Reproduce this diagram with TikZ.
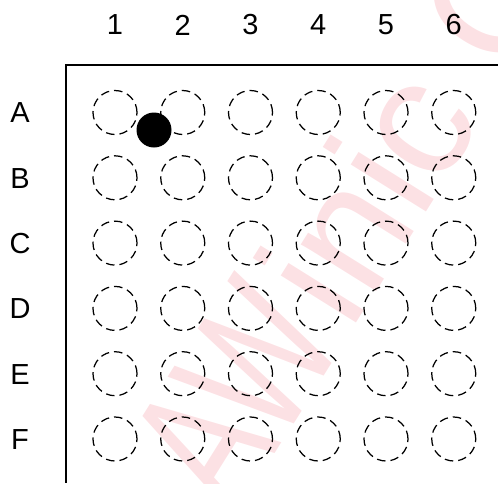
\documentclass[tikz,border=0pt]{standalone}
\usepackage{fontspec}
\setmainfont{Liberation Sans}
\definecolor{wmpink}{RGB}{252,225,228}
\begin{document}
\begin{tikzpicture}[x=1pt,y=-1pt,
  ball/.style={circle,draw=black,line width=1.25pt,dash pattern=on 8.5pt off 5pt,minimum size=44pt,inner sep=0pt},
  lbl/.style={font=\fontsize{29}{29}\selectfont,inner sep=0pt},
  frame/.style={line width=1.6pt,black}]
\useasboundingbox (0,0) rectangle (498,483);
\begin{scope}
\clip (0,0) rectangle (498,483);
\node[rotate=58,anchor=base west,text=wmpink,font=\fontsize{168}{168}\selectfont,inner sep=0pt] (wm) at (210,558) {\kern46pt\scalebox{0.8}[1.14]{AW}\kern8pt inic C};
\end{scope}
\coordinate (tl) at (66,65);
\coordinate (tr) at (498,65);
\coordinate (bl) at (66,483);
\draw[frame] (tr) -- (tl) -- (bl);
\foreach \c [count=\i] in {1,2,3,4,5,6}{
  \node[lbl] (col\i) at ({115+67.75*(\i-1)},25) {\c};
}
\foreach \r [count=\j] in {A,B,C,D,E,F}{
  \node[lbl] (row\j) at (20,{113+65.3*(\j-1)}) {\r};
  \foreach \i in {1,...,6}{
    \node[ball] (b\j\i) at ({115+67.75*(\i-1)},{112.5+65.3*(\j-1)}) {};
  }
}
\node[circle,fill=black,minimum size=35pt,inner sep=0pt] (pin1) at (154,130) {};
\end{tikzpicture}
\end{document}
